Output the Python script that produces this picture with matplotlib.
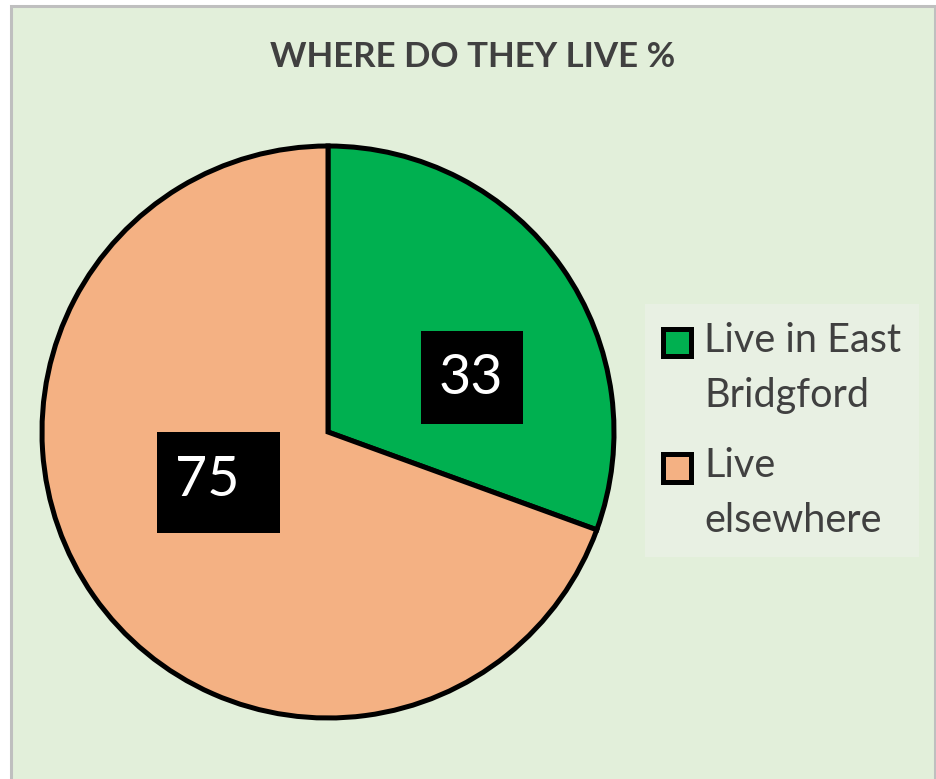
import matplotlib
matplotlib.use("Agg")
import matplotlib.pyplot as plt
from matplotlib.patches import Rectangle

plt.rcParams['font.family'] = ['Lato', 'DejaVu Sans']

title = "WHERE DO THEY LIVE %"
categories = ["Live in East\nBridgford", "Live\nelsewhere"]
values = [33, 75]
colors = ["#00B050", "#F4B183"]

W, H = 937, 779
fig = plt.figure(figsize=(W / 100, H / 100), dpi=100)
fig.patch.set_facecolor("white")

# background panel with border
bg = Rectangle((11 / W, -0.02), (935 - 11) / W, 1 - 6 / H + 0.02, transform=fig.transFigure,
               facecolor="#E2EFDA", edgecolor="#BFBFBF", linewidth=2.2, zorder=-10)
fig.patches.append(bg)

fig.text(473 / W, 1 - 57 / H, title, ha="center", va="center", fontsize=25,
         fontweight="bold", color="#404040")

cx, cy, R = 328, 432, 286
ax = fig.add_axes([(cx - R) / W, 1 - (cy + R) / H, 2 * R / W, 2 * R / H])
ax.patch.set_visible(False)
ax.axis("off")

wedges, _ = ax.pie(values, colors=colors, startangle=90, counterclock=False,
                   radius=1.0, wedgeprops=dict(edgecolor="black", linewidth=3.6))
ax.set_xlim(-1, 1)
ax.set_ylim(-1, 1)
ax.set_aspect("equal")

# data label boxes (layout: center x, center y, width, height, text x, text y)
label_layout = [(0.5035, 0.190, 0.357, 0.325, 0.498, 0.188),
                (-0.383, -0.176, 0.430, 0.353, -0.421, -0.168)]
for v, (bx, by, bw, bh, tx, ty) in zip(values, label_layout):
    ax.add_patch(Rectangle((bx - bw / 2, by - bh / 2), bw, bh, facecolor="black",
                           edgecolor="none", zorder=5))
    ax.text(tx, ty, str(v), ha="center", va="center", fontsize=40, color="white", zorder=6)

leg = fig.legend(wedges, categories, loc="upper left",
                 bbox_to_anchor=(645 / W, 1 - 304 / H), frameon=True, fancybox=False,
                 fontsize=28.5, labelcolor="#404040", handlelength=0.7, handleheight=0.7,
                 handletextpad=0.35, labelspacing=0.85, borderpad=0.45, borderaxespad=0)
for t in leg.get_texts():
    t.set_linespacing(1.6)
# align the swatches with the first text line of each entry
for p in leg.get_patches():
    p.set_y(p.get_y() + 19)
leg.get_frame().set_facecolor("#E8F0E3")
leg.get_frame().set_edgecolor("none")
leg.get_frame().set_alpha(1)

fig.savefig("out.png", dpi=100, facecolor=fig.get_facecolor())
